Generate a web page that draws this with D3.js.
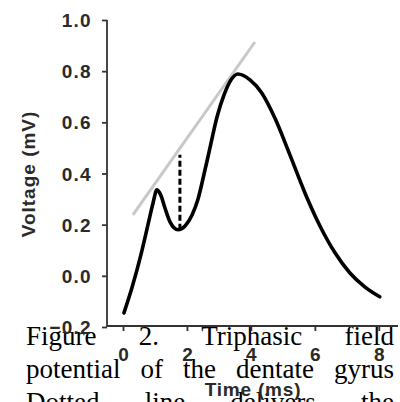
<!DOCTYPE html>
<html><head><meta charset="utf-8">
<script src="https://cdn.jsdelivr.net/npm/d3@7"></script>
<style>
html,body{margin:0;padding:0;background:#fff;overflow:hidden;}
svg{display:block;}
</style></head>
<body>
<svg id="c" width="400" height="402"></svg>
<script>
// Data
const timeMs = [0.03,0.28,0.56,0.78,0.94,1.06,1.19,1.31,1.47,1.72,1.94,2.16,2.34,2.53,2.72,2.94,3.16,3.38,3.59,3.97,4.34,4.75,5.22,5.69,6.16,6.63,7.09,7.56,8.03];
const voltage = [-0.145,-0.047,0.082,0.199,0.285,0.336,0.313,0.266,0.211,0.180,0.195,0.238,0.297,0.395,0.500,0.621,0.707,0.766,0.789,0.766,0.715,0.617,0.473,0.324,0.195,0.090,0.012,-0.043,-0.082];
const tangentT = [0.31, 4.125];
const tangentV = [0.238, 0.914];
const dashT = [1.78, 1.78];
const dashV = [0.18, 0.473];
const xTicks = [0,2,4,6,8];
const yTicks = [-0.2,0.0,0.2,0.4,0.6,0.8,1.0];
const yLabel = "Voltage (mV)";
const xLabel = "Time (ms)";
const captionLines = [
  ["Figure","2.","Triphasic","field"],
  ["potential","of","the","dentate","gyrus"],
  ["Dotted","line","delivers","the"]
];

const svg = d3.select("#c");
const x = d3.scaleLinear().domain([-0.5, 8.6]).range([107, 398]);
const y = d3.scaleLinear().domain([-0.2, 1.0]).range([327, 20]);

// caption (justified)
const capLeft = 26, capRight = 394, capBase = [345, 378, 411];
captionLines.forEach((words, li) => {
  const g = svg.append("g");
  const nodes = words.map(w => g.append("text").text(w)
    .attr("font-family","'Liberation Serif','Times New Roman',serif")
    .attr("font-size", 27).attr("fill","#000").attr("y", capBase[li]));
  const widths = nodes.map(n => n.node().getComputedTextLength());
  const total = d3.sum(widths);
  const gap = (capRight - capLeft - total) / (words.length - 1);
  let cx = capLeft;
  nodes.forEach((n,i) => { n.attr("x", cx); cx += widths[i] + gap; });
});

const tickFont = "'Liberation Sans',Arial,sans-serif";

// y axis
const yAxis = svg.append("g").attr("transform","translate(107,0)")
  .call(d3.axisLeft(y).tickValues(yTicks).tickFormat(d3.format(".1f")).tickSize(5).tickPadding(10).tickSizeOuter(0));
yAxis.select(".domain").attr("stroke","#333").attr("stroke-width",1.8).attr("d","M0,20V327");
yAxis.selectAll(".tick line").attr("stroke","#333").attr("stroke-width",1.8);
yAxis.selectAll(".tick text").attr("font-family",tickFont).attr("font-size",19).attr("font-weight","bold")
  .attr("letter-spacing","1.3px").attr("fill","#2a2a2a").attr("dy","0.35em");

// x axis
const xAxis = svg.append("g").attr("transform","translate(0,326)")
  .call(d3.axisBottom(x).tickValues(xTicks).tickFormat(d3.format("d")).tickSize(5).tickPadding(17).tickSizeOuter(0));
xAxis.select(".domain").attr("stroke","#333").attr("stroke-width",1.8).attr("d","M107,0H398");
xAxis.selectAll(".tick line").attr("stroke","#333").attr("stroke-width",1.8);
xAxis.selectAll(".tick text").attr("font-family",tickFont).attr("font-size",19).attr("font-weight","bold").attr("fill","#2a2a2a");

// axis titles
svg.append("text").text(yLabel)
  .attr("transform","translate(35,174) rotate(-90)")
  .attr("text-anchor","middle").attr("font-family",tickFont).attr("font-size",19).attr("font-weight","bold")
  .attr("letter-spacing","1px").attr("fill","#2a2a2a");
svg.append("text").text(xLabel)
  .attr("x", 253).attr("y", 396)
  .attr("text-anchor","middle").attr("font-family",tickFont).attr("font-size",19).attr("font-weight","bold")
  .attr("letter-spacing","0.8px").attr("fill","#2a2a2a");

// tangent gray line
svg.append("path")
  .datum(tangentT.map((t,i)=>[t,tangentV[i]]))
  .attr("d", d3.line().x(d=>x(d[0])).y(d=>y(d[1])))
  .attr("stroke","#c8c8c8").attr("stroke-width",3).attr("fill","none");

// dashed vertical
svg.append("path")
  .datum(dashT.map((t,i)=>[t,dashV[i]]))
  .attr("d", d3.line().x(d=>x(d[0])).y(d=>y(d[1])))
  .attr("stroke","#000").attr("stroke-width",3).attr("stroke-dasharray","6,3").attr("fill","none");

// main trace
svg.append("path")
  .datum(timeMs.map((t,i)=>[t,voltage[i]]))
  .attr("d", d3.line().curve(d3.curveMonotoneX).x(d=>x(d[0])).y(d=>y(d[1])))
  .attr("stroke","#000").attr("stroke-width",3.6).attr("fill","none")
  .attr("stroke-linecap","round").attr("stroke-linejoin","round");
</script>
</body></html>
